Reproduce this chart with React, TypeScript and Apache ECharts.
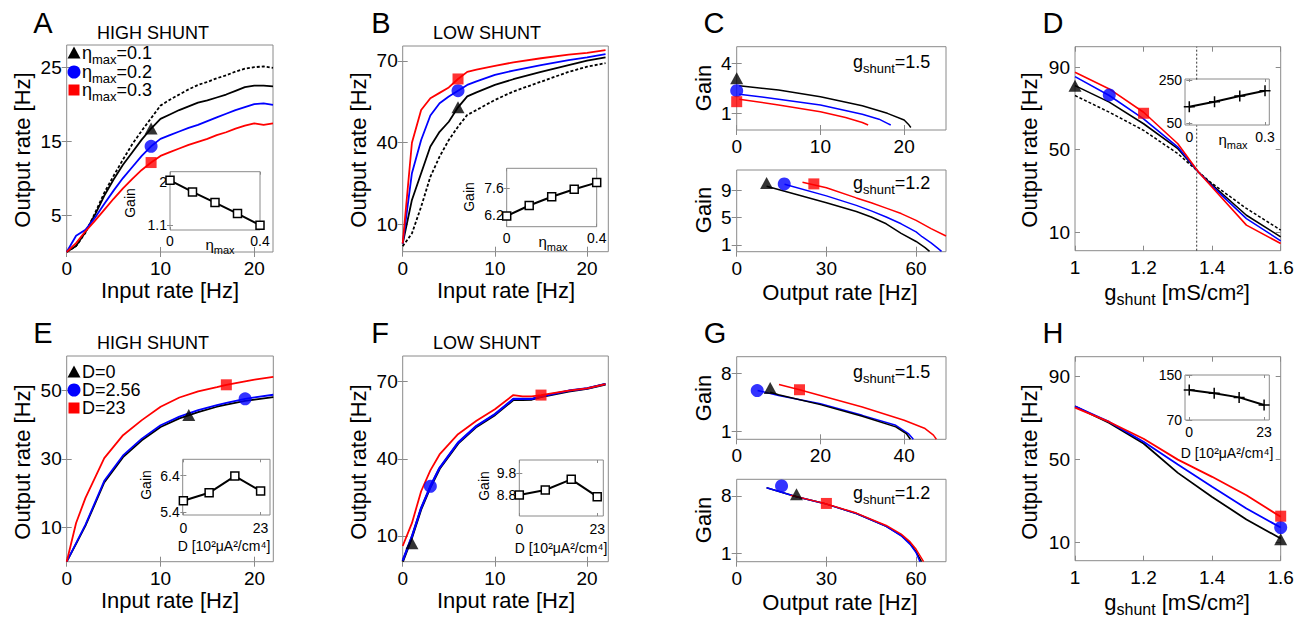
import React, { useEffect, useRef } from 'react';
import * as echarts from 'echarts';

const FONT = '"Liberation Sans", Arial, Helvetica, sans-serif';
const RED = '#ff0000';
const BLUE = '#0000ff';
const BLACK = '#000000';
const FRAME = '#8a8a8a';

// ---------- Panel A (high shunt, eta_max) ----------
const inputRateA = [0, 1, 2, 3, 4, 5, 6, 7, 8, 9, 10, 11, 12, 13, 14, 15, 16, 17, 18, 19, 20, 21, 22];
const aDashed = [0, 0.8, 2.6, 5.2, 8.0, 10.3, 12.5, 14.6, 16.4, 18.1, 19.8, 20.6, 21.3, 22.0, 22.6, 23.0, 23.5, 23.9, 24.4, 24.8, 25.0, 25.1, 24.9];
const aBlack = [0, 0.8, 2.7, 5.0, 7.6, 9.8, 11.8, 13.5, 15.2, 16.7, 18.0, 18.6, 19.2, 19.7, 20.2, 20.5, 20.9, 21.3, 21.8, 22.3, 22.5, 22.5, 22.4];
const aBlue = [0, 2.2, 3.0, 4.6, 6.5, 8.3, 10.0, 11.5, 13.0, 14.3, 15.3, 15.8, 16.3, 16.8, 17.2, 17.7, 18.2, 18.7, 19.2, 19.6, 20.0, 20.1, 19.9];
const aRed = [0, 1.2, 2.8, 4.2, 5.7, 7.2, 8.6, 9.9, 11.1, 12.1, 13.0, 13.5, 14.0, 14.5, 14.9, 15.3, 15.8, 16.2, 16.7, 17.1, 17.4, 17.2, 17.4];
const aMarkX = 9;
const aMarkY = [16.7, 14.3, 12.1];
const etaInset = [0, 0.1, 0.2, 0.3, 0.4];
const aInsetGain = [2.03, 1.79, 1.57, 1.34, 1.1];

// ---------- Panel B (low shunt, eta_max) ----------
const inputRateB = [0, 1, 2, 3, 4, 5, 6, 7, 8, 10, 12, 15, 18, 20, 22];
const bRed = [3, 40, 52, 56.3, 58.3, 60.3, 63.4, 66, 66.8, 68.2, 69.5, 71, 72.3, 73, 74];
const bBlue = [3, 28.8, 41, 50, 54.5, 57, 59.1, 61.2, 62.5, 64.9, 66.5, 68.5, 70.3, 71.3, 72.5];
const bBlack = [3, 19, 28.8, 38.6, 44, 47.7, 53, 57, 58.5, 61.2, 63.3, 66, 68.5, 70.1, 71.3];
const bDashed = [2, 6.7, 16.5, 27.5, 34.9, 41, 45.9, 50.2, 52, 55.7, 58.8, 62.4, 66, 67.9, 69.2];
const bMarkX = 6;
const bMarkY = [53, 59.1, 63.4];
const bInsetGain = [6.15, 6.7, 7.16, 7.55, 7.9];

// ---------- Panel C (gain vs output rate, eta_max) ----------
const cTopBlackX = [0.3, 5, 10, 15, 18, 20, 20.5, 20.8];
const cTopBlackY = [2.65, 2.4, 2.0, 1.45, 1.0, 0.6, 0.35, 0.15];
const cTopBlueX = [0.3, 5, 10, 15, 17, 18, 18.4];
const cTopBlueY = [2.15, 1.85, 1.5, 0.95, 0.65, 0.4, 0.3];
const cTopRedX = [0.3, 5, 10, 13, 15, 15.7];
const cTopRedY = [1.85, 1.5, 1.1, 0.75, 0.45, 0.3];
const cTopMarkY = [3.1, 2.36, 1.7];
const cBotBlackX = [10, 20, 30, 40, 45, 50, 55, 60, 63, 64.5];
const cBotBlackY = [9.6, 8.4, 7.2, 5.9, 5.1, 4.1, 2.7, 1.5, 0.6, 0.05];
const cBotBlueX = [16, 30, 40, 45, 50, 55, 60, 62, 65, 67, 68.5];
const cBotBlueY = [9.9, 8.2, 6.8, 6.0, 5.1, 4.1, 2.9, 2.2, 1.3, 0.6, 0.05];
const cBotRedX = [22, 30, 40, 45, 50, 55, 60, 65, 70];
const cBotRedY = [10.2, 9.4, 7.9, 7.2, 6.4, 5.6, 4.6, 3.4, 2.3];
const cBotMarkX = [10, 15.9, 25.8];
const cBotMarkY = [10.1, 9.96, 9.96];

// ---------- Panel D (output rate vs g_shunt, eta_max) ----------
const gShuntD = [1, 1.1, 1.2, 1.3, 1.36, 1.4, 1.5, 1.6];
const dRed = [87.6, 79.5, 68.2, 52.9, 39.2, 31.8, 13.4, 4.5];
const dBlue = [85.5, 76.3, 65.0, 51.3, 39.2, 32.3, 16.6, 5.8];
const dBlack = [81.1, 73.1, 62.6, 50.5, 39.2, 33.0, 18.2, 7.7];
const dDashed = [76.3, 68.2, 59.4, 48.1, 39.2, 33.6, 21.5, 11.0];
const dMarkX = [1, 1.1, 1.2];
const dMarkY = [81.1, 76.6, 67.7];
const dCrossX = 1.355;
const dCrossLower = [1, 61.8];
const dCrossUpper = [84, 100];
const etaInsetD = [0, 0.1, 0.2, 0.3];
const dInsetRate = [125.8, 149, 175.6, 200.2];

// ---------- Panel E (high shunt, noise D) ----------
const inputRateE = [0, 1, 2, 4, 6, 8, 10, 12, 14, 16, 17, 19, 20, 22];
const eRed = [0, 11.3, 18.6, 30.2, 36.9, 41.3, 45.2, 47.9, 49.7, 50.9, 51.6, 52.6, 53.1, 53.9];
const eBlue = [0, 5.4, 10.8, 23.6, 31, 35.9, 39.8, 42.3, 44.2, 45.7, 46.3, 47.5, 47.9, 48.7];
const eBlack = [0, 5.2, 10.5, 23.1, 30.5, 35.4, 39.3, 41.8, 43.6, 45.2, 45.8, 46.9, 47.3, 48.0];
const eMarkX = [13, 19, 17];
const eMarkY = [42.8, 47.5, 51.6];
const noiseInset = [0, 7.67, 15.33, 23];
const eInsetGain = [5.71, 5.93, 6.39, 5.98];

// ---------- Panel F (low shunt, noise D) ----------
const inputRateF = [0, 1, 2, 3, 4, 6, 8, 10, 12, 13, 14, 15, 18, 20, 22];
const fRed = [6.1, 15, 27.4, 35.5, 41.7, 49.6, 54.8, 59.3, 64.8, 64.3, 64.3, 64.8, 66.5, 67.4, 69.1];
const fBlue = [0.4, 9.8, 20.9, 29.3, 36.5, 46.3, 52.8, 57.4, 63.3, 63.3, 63.3, 64.3, 66.5, 67.4, 69.1];
const fBlack = [0, 9.5, 20.5, 29, 36.2, 46, 52.5, 57.1, 63, 63, 63.1, 64.1, 66.3, 67.3, 69.0];
const fMarkX = [1, 3, 15];
const fMarkY = [7.2, 29.3, 64.8];
const fInsetGain = [8.8, 9.03, 9.52, 8.72];

// ---------- Panel G (gain vs output rate, noise D) ----------
const gTopRedX = [10.1, 15, 20, 30, 40, 45, 47, 47.7];
const gTopRedY = [6.63, 6.0, 5.3, 3.9, 2.3, 1.3, 0.5, 0];
const gTopBlueX = [5, 10, 20, 30, 38, 41, 42.2];
const gTopBlueY = [5.9, 5.3, 4.3, 2.9, 1.7, 0.7, 0];
const gTopBlackX = [8, 10, 20, 30, 38, 40.5, 41.5];
const gTopBlackY = [5.7, 5.4, 4.2, 2.8, 1.5, 0.7, 0];
const gTopMarkX = [8, 4.9, 15];
const gTopMarkY = [6.2, 5.9, 6.0];
const gBotBlackX = [10, 20, 30, 40, 50, 55, 58, 60, 61.8];
const gBotBlackY = [8.97, 7.88, 6.99, 5.85, 4.3, 3.2, 2.2, 1.2, 0];
const gBotBlueX = [10, 20, 30, 40, 50, 55, 58, 60, 61.3];
const gBotBlueY = [8.97, 7.88, 6.99, 5.85, 4.3, 3.15, 2.1, 1.1, 0];
const gBotRedX = [18, 20, 30, 40, 50, 55, 58, 60, 62.5];
const gBotRedY = [8.05, 7.9, 7.02, 5.9, 4.4, 3.35, 2.4, 1.5, 0];
const gBotMarkX = [20, 15, 30];
const gBotMarkY = [8.2, 9.2, 7.07];

// ---------- Panel H (output rate vs g_shunt, noise D) ----------
const gShuntH = [1, 1.1, 1.2, 1.3, 1.4, 1.5, 1.6];
const hRed = [74.9, 68, 59.9, 49.8, 41.5, 32.6, 22.2];
const hBlue = [75.5, 68, 58.4, 47.4, 36.7, 26.2, 17];
const hBlack = [75.5, 67.5, 57.6, 43.4, 31.8, 20.9, 11.7];
const hMarkX = 1.6;
const hMarkY = [11.4, 17, 22.5];
const hInsetRate = [123.3, 117.4, 110.2, 96.7];

const pairs = (xs: number[], ys: number[]) => xs.map((x, i) => [x, ys[i]]);

function buildOption() {
  const grid: any[] = [];
  const xAxis: any[] = [];
  const yAxis: any[] = [];
  const series: any[] = [];
  const graphic: any[] = [];

  type P = { l: number; t: number; w: number; h: number; xr: number[]; yr: number[]; xt: number[]; yt: number[]; fs: number; tl: number; xm: number; ym: number };
  const panel = (p: P) => {
    const gi = grid.length;
    grid.push({ left: p.l, top: p.t, width: p.w, height: p.h, show: true, borderColor: FRAME, borderWidth: 1, backgroundColor: 'transparent' });
    const tick = (vals: number[]) => ({ show: true, inside: true, length: p.tl, customValues: vals, lineStyle: { color: FRAME, width: 1 } });
    const lab = (vals: number[], m: number) => ({ show: true, customValues: vals, fontSize: p.fs, color: '#000', fontFamily: FONT, margin: m });
    const common = { gridIndex: gi, type: 'value', splitLine: { show: false }, axisLine: { show: false } };
    xAxis.push({ ...common, position: 'bottom', min: p.xr[0], max: p.xr[1], axisTick: tick(p.xt), axisLabel: lab(p.xt, p.xm) });
    xAxis.push({ ...common, position: 'top', min: p.xr[0], max: p.xr[1], axisTick: tick(p.xt), axisLabel: { show: false } });
    yAxis.push({ ...common, position: 'left', min: p.yr[0], max: p.yr[1], axisTick: tick(p.yt), axisLabel: lab(p.yt, p.ym) });
    yAxis.push({ ...common, position: 'right', min: p.yr[0], max: p.yr[1], axisTick: tick(p.yt), axisLabel: { show: false } });
    return gi * 2;
  };
  const line = (ax: number, xs: number[], ys: number[], color: string, width = 1.8, type: any = 'solid') => {
    series.push({ type: 'line', xAxisIndex: ax, yAxisIndex: ax, data: pairs(xs, ys), symbol: 'none', silent: true, lineStyle: { color, width, type }, z: 3 });
  };
  const SHAPES: Record<string, any> = { tri: 'triangle', circ: 'circle', sq: 'rect' };
  const SIZES: Record<string, any> = { tri: [13, 12], circ: 13, sq: 11 };
  const mark = (ax: number, x: number, y: number, shape: string, color: string) => {
    series.push({ type: 'scatter', xAxisIndex: ax, yAxisIndex: ax, data: [[x, y]], symbol: SHAPES[shape], symbolSize: SIZES[shape], itemStyle: { color }, clip: false, silent: true, z: 6 });
  };
  const insetSq = (ax: number, xs: number[], ys: number[]) => {
    series.push({ type: 'line', xAxisIndex: ax, yAxisIndex: ax, data: pairs(xs, ys), symbol: 'rect', symbolSize: 8, showSymbol: true, clip: false, silent: true, lineStyle: { color: BLACK, width: 2 }, itemStyle: { color: '#fff', borderColor: BLACK, borderWidth: 1.5 }, z: 4 });
  };
  const insetPlus = (ax: number, xs: number[], ys: number[]) => {
    series.push({ type: 'line', xAxisIndex: ax, yAxisIndex: ax, data: pairs(xs, ys), symbol: 'path://M0 5 L10 5 M5 0 L5 10', symbolSize: 11, showSymbol: true, clip: false, silent: true, lineStyle: { color: BLACK, width: 2 }, itemStyle: { color: 'none', borderColor: BLACK, borderWidth: 1.5 }, z: 4 });
  };

  const txt = (x: number, y: number, text: string, fontSize: number, o: any = {}) => {
    graphic.push({ type: 'text', x, y, rotation: o.rot || 0, z: 100, silent: true, style: { text, fontSize, fontFamily: FONT, fill: '#000', align: o.align || 'center', verticalAlign: 'middle', rich: o.rich } });
  };
  const sub = (main: number, small: number) => ({
    m: { fontSize: main, fontFamily: FONT, lineHeight: main + 8, fill: '#000' },
    s: { fontSize: small, fontFamily: FONT, lineHeight: small, verticalAlign: 'bottom', fill: '#000' },
  });
  const ROT = Math.PI / 2;

  // ---------------- A ----------------
  const axA = panel({ l: 66.7, t: 45, w: 206.3, h: 207, xr: [0, 22], yr: [0, 28], xt: [0, 10, 20], yt: [5, 15, 25], fs: 19, tl: 5, xm: 7, ym: 5 });
  line(axA, inputRateA, aDashed, BLACK, 1.8, [3, 2]);
  line(axA, inputRateA, aBlack, BLACK);
  line(axA, inputRateA, aBlue, BLUE);
  line(axA, inputRateA, aRed, RED);
  mark(axA, aMarkX, aMarkY[0], 'tri', BLACK);
  mark(axA, aMarkX, aMarkY[1], 'circ', BLUE);
  mark(axA, aMarkX, aMarkY[2], 'sq', RED);
  const axAi = panel({ l: 170, t: 171.7, w: 90, h: 58.3, xr: [0, 0.4], yr: [1.0, 2.21], xt: [0, 0.4], yt: [1.1, 2], fs: 14, tl: 3, xm: 4, ym: 3 });
  insetSq(axAi, etaInset, aInsetGain);

  // ---------------- B ----------------
  const axB = panel({ l: 402.7, t: 46, w: 205.6, h: 205.7, xr: [0, 22.3], yr: [0, 75.5], xt: [0, 10, 20], yt: [10, 40, 70], fs: 19, tl: 5, xm: 7, ym: 5 });
  line(axB, inputRateB, bDashed, BLACK, 1.8, [3, 2]);
  line(axB, inputRateB, bBlack, BLACK);
  line(axB, inputRateB, bBlue, BLUE);
  line(axB, inputRateB, bRed, RED);
  mark(axB, bMarkX, bMarkY[0], 'tri', BLACK);
  mark(axB, bMarkX, bMarkY[1], 'circ', BLUE);
  mark(axB, bMarkX, bMarkY[2], 'sq', RED);
  const axBi = panel({ l: 506.7, t: 168.3, w: 90, h: 58.4, xr: [0, 0.4], yr: [5.59, 8.65], xt: [0, 0.4], yt: [6.2, 7.6], fs: 14, tl: 3, xm: 4, ym: 3 });
  insetSq(axBi, etaInset, bInsetGain);

  // ---------------- C ----------------
  const axCt = panel({ l: 736.7, t: 46.7, w: 209.3, h: 83.3, xr: [0, 25], yr: [0, 5], xt: [0, 10, 20], yt: [1, 4], fs: 19, tl: 5, xm: 7, ym: 5 });
  line(axCt, cTopBlackX, cTopBlackY, BLACK, 1.5);
  line(axCt, cTopBlueX, cTopBlueY, BLUE, 1.5);
  line(axCt, cTopRedX, cTopRedY, RED, 1.5);
  mark(axCt, 0, cTopMarkY[0], 'tri', BLACK);
  mark(axCt, 0, cTopMarkY[1], 'circ', BLUE);
  mark(axCt, 0, cTopMarkY[2], 'sq', RED);
  const axCb = panel({ l: 736.7, t: 170, w: 209.3, h: 81.7, xr: [0, 70], yr: [0, 12], xt: [0, 30, 60], yt: [1, 5, 9], fs: 19, tl: 5, xm: 7, ym: 5 });
  line(axCb, cBotBlackX, cBotBlackY, BLACK, 1.5);
  line(axCb, cBotBlueX, cBotBlueY, BLUE, 1.5);
  line(axCb, cBotRedX, cBotRedY, RED, 1.5);
  mark(axCb, cBotMarkX[0], cBotMarkY[0], 'tri', BLACK);
  mark(axCb, cBotMarkX[1], cBotMarkY[1], 'circ', BLUE);
  mark(axCb, cBotMarkX[2], cBotMarkY[2], 'sq', RED);

  // ---------------- D ----------------
  const axD = panel({ l: 1075, t: 46.7, w: 205.7, h: 204, xr: [1, 1.6], yr: [1, 100], xt: [1, 1.2, 1.4, 1.6], yt: [10, 50, 90], fs: 19, tl: 5, xm: 7, ym: 5 });
  line(axD, [dCrossX, dCrossX], dCrossLower, '#333', 1, [2, 2]);
  line(axD, [dCrossX, dCrossX], dCrossUpper, '#333', 1, [2, 2]);
  line(axD, gShuntD, dDashed, BLACK, 1.5, [3, 2]);
  line(axD, gShuntD, dBlack, BLACK, 1.6);
  line(axD, gShuntD, dBlue, BLUE, 1.6);
  line(axD, gShuntD, dRed, RED, 1.6);
  mark(axD, dMarkX[0], dMarkY[0], 'tri', BLACK);
  mark(axD, dMarkX[1], dMarkY[1], 'circ', BLUE);
  mark(axD, dMarkX[2], dMarkY[2], 'sq', RED);
  const axDi = panel({ l: 1185, t: 79, w: 84.3, h: 46, xr: [-0.017, 0.317], yr: [41, 255], xt: [0, 0.3], yt: [50, 250], fs: 14, tl: 3, xm: 5, ym: 3 });
  insetPlus(axDi, etaInsetD, dInsetRate);

  // ---------------- E ----------------
  const axE = panel({ l: 66.7, t: 356, w: 206.6, h: 205.7, xr: [0, 22], yr: [0, 60], xt: [0, 10, 20], yt: [10, 30, 50], fs: 19, tl: 5, xm: 7, ym: 5 });
  line(axE, inputRateE, eBlack, BLACK);
  line(axE, inputRateE, eBlue, BLUE);
  line(axE, inputRateE, eRed, RED);
  mark(axE, eMarkX[0], eMarkY[0], 'tri', BLACK);
  mark(axE, eMarkX[1], eMarkY[1], 'circ', BLUE);
  mark(axE, eMarkX[2], eMarkY[2], 'sq', RED);
  const axEi = panel({ l: 182.7, t: 459.3, w: 87.3, h: 55.7, xr: [-0.2, 25.8], yr: [5.32, 6.85], xt: [0, 23], yt: [5.4, 6.4], fs: 14, tl: 3, xm: 6, ym: 3 });
  insetSq(axEi, noiseInset, eInsetGain);

  // ---------------- F ----------------
  const axF = panel({ l: 402.7, t: 356, w: 205.6, h: 205.7, xr: [0, 22.3], yr: [0, 80], xt: [0, 10, 20], yt: [10, 40, 70], fs: 19, tl: 5, xm: 7, ym: 5 });
  line(axF, inputRateF, fBlack, BLACK, 2.4);
  line(axF, inputRateF, fBlue, BLUE, 2.2);
  line(axF, inputRateF, fRed, RED);
  mark(axF, fMarkX[0], fMarkY[0], 'tri', BLACK);
  mark(axF, fMarkX[1], fMarkY[1], 'circ', BLUE);
  mark(axF, fMarkX[2], fMarkY[2], 'sq', RED);
  const axFi = panel({ l: 519.3, t: 460, w: 84, h: 56, xr: [0, 24.8], yr: [7.83, 10.41], xt: [0, 23], yt: [8.8, 9.8], fs: 14, tl: 3, xm: 6, ym: 3 });
  insetSq(axFi, noiseInset, fInsetGain);

  // ---------------- G ----------------
  const axGt = panel({ l: 736.7, t: 356.7, w: 209.3, h: 82.6, xr: [0, 50], yr: [0, 10], xt: [0, 20, 40], yt: [1, 8], fs: 19, tl: 5, xm: 7, ym: 5 });
  line(axGt, gTopBlueX, gTopBlueY, BLUE, 1.5);
  line(axGt, gTopBlackX, gTopBlackY, BLACK, 1.5);
  line(axGt, gTopRedX, gTopRedY, RED, 1.5);
  mark(axGt, gTopMarkX[0], gTopMarkY[0], 'tri', BLACK);
  mark(axGt, gTopMarkX[1], gTopMarkY[1], 'circ', BLUE);
  mark(axGt, gTopMarkX[2], gTopMarkY[2], 'sq', RED);
  const axGb = panel({ l: 736.7, t: 479.3, w: 209.3, h: 82.4, xr: [0, 70], yr: [0, 10], xt: [0, 30, 60], yt: [1, 8], fs: 19, tl: 5, xm: 7, ym: 5 });
  line(axGb, gBotBlackX, gBotBlackY, BLACK, 1.5);
  line(axGb, gBotBlueX, gBotBlueY, BLUE, 1.5);
  line(axGb, gBotRedX, gBotRedY, RED, 1.5);
  mark(axGb, gBotMarkX[0], gBotMarkY[0], 'tri', BLACK);
  mark(axGb, gBotMarkX[1], gBotMarkY[1], 'circ', BLUE);
  mark(axGb, gBotMarkX[2], gBotMarkY[2], 'sq', RED);

  // ---------------- H ----------------
  const axH = panel({ l: 1075, t: 356.7, w: 205.7, h: 204, xr: [1, 1.6], yr: [1, 99.5], xt: [1, 1.2, 1.4, 1.6], yt: [10, 50, 90], fs: 19, tl: 5, xm: 7, ym: 5 });
  line(axH, gShuntH, hBlack, BLACK);
  line(axH, gShuntH, hBlue, BLUE);
  line(axH, gShuntH, hRed, RED);
  mark(axH, hMarkX, hMarkY[0], 'tri', BLACK);
  mark(axH, hMarkX, hMarkY[1], 'circ', BLUE);
  mark(axH, hMarkX, hMarkY[2], 'sq', RED);
  const axHi = panel({ l: 1185, t: 375, w: 84.3, h: 45, xr: [-1.3, 24.6], yr: [70, 150], xt: [0, 23], yt: [70, 150], fs: 14, tl: 3, xm: 5, ym: 3 });
  insetPlus(axHi, noiseInset, hInsetRate);

  // ---------------- texts ----------------
  const letters: [string, number, number][] = [['A', 43, 23], ['B', 381, 23], ['C', 714, 23], ['D', 1053, 23], ['E', 43, 333], ['F', 380, 333], ['G', 715, 333], ['H', 1053, 333]];
  letters.forEach(([s, x, y]) => txt(x, y, s, 29));
  txt(153, 33, 'HIGH SHUNT', 18);
  txt(487, 33, 'LOW SHUNT', 18);
  txt(153, 343, 'HIGH SHUNT', 18);
  txt(487, 343, 'LOW SHUNT', 18);

  // axis titles
  [[22, 150], [358, 150], [1029, 150], [22, 462], [358, 462], [1029, 462]].forEach(([x, y]) => txt(x, y, 'Output rate [Hz]', 22, { rot: ROT }));
  [[170, 290], [506, 290], [170, 600], [506, 600]].forEach(([x, y]) => txt(x, y, 'Input rate [Hz]', 22));
  [[703, 88], [703, 210], [703, 398], [703, 520]].forEach(([x, y]) => txt(x, y, 'Gain', 22, { rot: ROT }));
  txt(840, 292, 'Output rate [Hz]', 22);
  txt(840, 602, 'Output rate [Hz]', 22);
  const gRich = sub(22, 16);
  txt(1177, 292, '{m|g}{s|shunt}{m| [mS/cm²]}', 22, { rich: gRich });
  txt(1177, 602, '{m|g}{s|shunt}{m| [mS/cm²]}', 22, { rich: gRich });

  // g_shunt annotations
  const gsRich = sub(18, 13);
  txt(853, 62, '{m|g}{s|shunt}{m|=1.5}', 18, { align: 'left', rich: gsRich });
  txt(853, 183, '{m|g}{s|shunt}{m|=1.2}', 18, { align: 'left', rich: gsRich });
  txt(853, 372, '{m|g}{s|shunt}{m|=1.5}', 18, { align: 'left', rich: gsRich });
  txt(853, 493, '{m|g}{s|shunt}{m|=1.2}', 18, { align: 'left', rich: gsRich });

  // legends A & E
  const legRich = sub(18, 13);
  const legA = ['{m|η}{s|max}{m|=0.1}', '{m|η}{s|max}{m|=0.2}', '{m|η}{s|max}{m|=0.3}'];
  const legE = ['D=0', 'D=2.56', 'D=23'];
  const rowsA = [53, 72, 90];
  const rowsE = [372, 390, 408];
  const legendKey = (x: number, y: number, k: number) => {
    if (k === 0) graphic.push({ type: 'polygon', z: 100, silent: true, shape: { points: [[x - 6.5, y + 5.5], [x + 6.5, y + 5.5], [x, y - 6.5]] }, style: { fill: BLACK } });
    if (k === 1) graphic.push({ type: 'circle', z: 100, silent: true, shape: { cx: x, cy: y, r: 6.5 }, style: { fill: BLUE } });
    if (k === 2) graphic.push({ type: 'rect', z: 100, silent: true, shape: { x: x - 5.5, y: y - 5.5, width: 11, height: 11 }, style: { fill: RED } });
  };
  rowsA.forEach((y, k) => { legendKey(74, y, k); txt(82, y, legA[k], 18, { align: 'left', rich: legRich }); });
  rowsE.forEach((y, k) => { legendKey(74, y, k); txt(82, y, legE[k], 18, { align: 'left' }); });

  // inset labels
  [[130, 203], [469, 197], [146, 485], [484, 486]].forEach(([x, y]) => txt(x, y, 'Gain', 14, { rot: ROT }));
  const etaRich = sub(15, 11);
  txt(220, 244, '{m|η}{s|max}', 15, { rich: etaRich });
  txt(553, 241, '{m|η}{s|max}', 15, { rich: etaRich });
  txt(1233, 139, '{m|η}{s|max}', 15, { rich: etaRich });
  txt(224, 546, 'D [10²μA²/cm⁴]', 14);
  txt(561, 548, 'D [10²μA²/cm⁴]', 14);
  txt(1227, 453, 'D [10²μA²/cm⁴]', 14);

  return { animation: false, backgroundColor: '#fff', grid, xAxis, yAxis, series, graphic };
}

export default function App() {
  const ref = useRef<HTMLDivElement>(null);
  useEffect(() => {
    const chart = echarts.init(ref.current as HTMLDivElement, undefined, { renderer: 'svg' });
    chart.setOption(buildOption() as any);
    return () => chart.dispose();
  }, []);
  return <div ref={ref} style={{ position: 'fixed', left: 0, top: 0, width: 1304, height: 632, background: '#fff' }} />;
}
